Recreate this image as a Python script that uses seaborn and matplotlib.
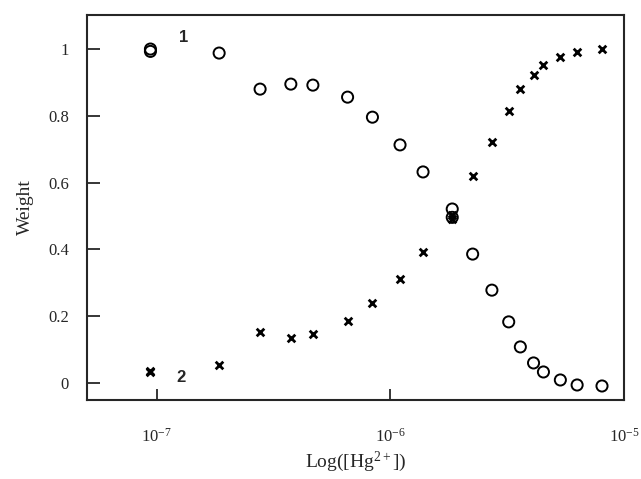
import numpy as np
import pandas as pd
import matplotlib
matplotlib.use("Agg")
import matplotlib.pyplot as plt
import seaborn as sns

# Data
conc = [9.4e-8, 9.4e-8, 1.85e-7, 2.77e-7, 3.75e-7, 4.66e-7, 6.56e-7, 8.38e-7,
        1.10e-6, 1.38e-6, 1.84e-6, 1.84e-6, 2.25e-6, 2.72e-6, 3.21e-6, 3.60e-6,
        4.10e-6, 4.52e-6, 5.34e-6, 6.30e-6, 8.05e-6]
weight1 = [1.0, 0.993, 0.988, 0.880, 0.895, 0.892, 0.856, 0.796,
           0.713, 0.632, 0.521, 0.496, 0.386, 0.278, 0.183, 0.108,
           0.060, 0.033, 0.009, -0.006, -0.009]
weight2 = [0.033, 0.036, 0.054, 0.153, 0.135, 0.147, 0.186, 0.240,
           0.311, 0.392, 0.502, 0.490, 0.620, 0.722, 0.814, 0.880,
           0.922, 0.952, 0.976, 0.991, 1.0]
xticks = [1e-7, 1e-6, 1e-5]
xticklabels = ["$10^{-7}$", "$10^{-6}$", "$10^{-5}$"]
yticks = [0, 0.2, 0.4, 0.6, 0.8, 1.0]
yticklabels = ["0", "0.2", "0.4", "0.6", "0.8", "1"]

df1 = pd.DataFrame({"conc": conc, "w": weight1})
df2 = pd.DataFrame({"conc": conc, "w": weight2})

sns.set_style("ticks")
plt.rcParams["font.family"] = ["Liberation Serif", "DejaVu Serif"]
plt.rcParams["mathtext.fontset"] = "custom"
plt.rcParams["mathtext.rm"] = "Liberation Serif"
plt.rcParams["mathtext.it"] = "Liberation Serif:italic"

fig = plt.figure(figsize=(6.41, 4.79), dpi=100)
ax = fig.add_axes([0.1357, 0.1649, 0.8378, 0.8038])

sns.scatterplot(data=df1, x="conc", y="w", ax=ax, marker="o", s=64,
                facecolor="none", edgecolor="black", linewidth=1.4, zorder=3)
sns.scatterplot(data=df2, x="conc", y="w", ax=ax, marker="x", s=30,
                color="black", linewidth=2.0, zorder=3)

ax.set_xscale("log")
ax.set_xlim(5.03e-8, 1e-5)
ax.set_ylim(-0.051, 1.102)
ax.set_xticks(xticks)
ax.set_xticklabels(xticklabels, fontsize=12)
ax.minorticks_off()
ax.set_yticks(yticks)
ax.set_yticklabels(yticklabels, fontsize=12)
ax.tick_params(axis="x", direction="in", length=8, width=1.3, pad=20)
ax.tick_params(axis="y", direction="in", length=9, width=1.3, pad=13)
for sp in ax.spines.values():
    sp.set_linewidth(1.5)
    sp.set_visible(True)

ax.set_xlabel("Log([Hg$^{2+}$])", fontsize=14, labelpad=3)
ax.set_ylabel("Weight", fontsize=14, labelpad=10)

ax.text(1.3e-7, 1.035, "1", fontsize=12, fontweight="bold",
        family=["Liberation Sans", "DejaVu Sans"], ha="center", va="center")
ax.text(1.27e-7, 0.015, "2", fontsize=12, fontweight="bold",
        family=["Liberation Sans", "DejaVu Sans"], ha="center", va="center")

fig.savefig("out.png", dpi=100)
